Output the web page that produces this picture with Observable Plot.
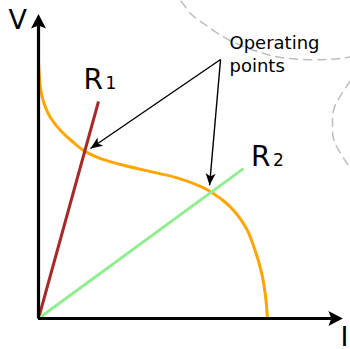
<!DOCTYPE html>
<html><head><meta charset="utf-8">
<script src="https://cdn.jsdelivr.net/npm/d3@7"></script>
<script src="https://cdn.jsdelivr.net/npm/@observablehq/plot@0.6"></script>
<style>html,body{margin:0;padding:0;background:#fff}svg{display:block}</style>
</head><body><div id="chart"></div>
<script>
// Source I–V characteristic (normalised current I, voltage V)
const curveI = [0, 0.009, 0.026, 0.052, 0.096, 0.148, 0.205, 0.271, 0.358, 0.467, 0.598, 0.707, 0.795, 0.860, 0.908, 0.943, 0.974, 0.991, 1.000];
const curveV = [1.000, 0.891, 0.829, 0.779, 0.729, 0.686, 0.647, 0.620, 0.597, 0.574, 0.547, 0.512, 0.465, 0.411, 0.349, 0.271, 0.178, 0.089, 0];

// Load lines (through the origin)
const loadNames = ["R1", "R2"];
const loadEndI = [0.262, 0.895];
const loadEndV = [0.841, 0.581];

// Operating points and the callout origin
const opI = [0.227, 0.747];
const opV = [0.659, 0.516];
const calloutI = 0.795, calloutV = 1.004;

// Axis extents
const axisEndI = 1.279, axisEndV = 1.136;

// Dashed decorative arcs
const arc1I = [0.576, 0.620, 0.664, 0.721, 0.783, 0.873, 0.969, 1.057, 1.157, 1.262, 1.349, 1.406];
const arc1V = [1.264, 1.233, 1.182, 1.143, 1.105, 1.062, 1.031, 1.012, 1.004, 1.004, 1.012, 1.019];
const arc2I = [1.389, 1.362, 1.319, 1.288, 1.284, 1.288, 1.319, 1.354, 1.389];
const arc2V = [0.969, 0.922, 0.864, 0.806, 0.756, 0.698, 0.640, 0.593, 0.554];

// Labels
const bigLabels = ["V", "I"];
const bigLabelI = [-0.131, 1.319];
const bigLabelV = [1.124, -0.105];
const rLabelI = [0.1965, 0.928];
const rLabelV = [0.888, 0.593];
const subLabels = ["1", "2"];
const subLabelI = [0.293, 1.024];
const noteText = "Operating\npoints";
const noteI = 0.834, noteV = 0.957;

const zip = (a, b) => a.map((v, i) => ({I: v, V: b[i]}));
const curve = zip(curveI, curveV);
const arc1 = zip(arc1I, arc1V);
const arc2 = zip(arc2I, arc2V);
const loads = loadNames.map((n, i) => ({name: n, I0: 0, V0: 0, I: loadEndI[i], V: loadEndV[i]}));
const callouts = opI.map((v, i) => ({I0: calloutI, V0: calloutV, I: v, V: opV[i]}));
const axes = [{I0: 0, V0: 0, I: 0, V: axisEndV}, {I0: -0.002, V0: 0, I: axisEndI, V: 0}];
const big = bigLabels.map((t, i) => ({t, I: bigLabelI[i], V: bigLabelV[i]}));
const rl = rLabelI.map((v, i) => ({t: "R", I: v, V: rLabelV[i]}));
const subs = subLabels.map((t, i) => ({t, I: subLabelI[i], V: rLabelV[i]}));

const plot = Plot.plot({
  width: 350, height: 349, margin: 0,
  x: {domain: [-38 / 229, 312 / 229], range: [0, 350], axis: null},
  y: {domain: [-31 / 258, 318 / 258], range: [349, 0], axis: null},
  style: {background: "white", fontFamily: "'DejaVu Sans', sans-serif", color: "black"},
  marks: [
    Plot.line(arc1, {x: "I", y: "V", curve: "natural", stroke: "#bdbdbd", strokeWidth: 1.5, strokeDasharray: "8,6"}),
    Plot.line(arc2, {x: "I", y: "V", curve: "natural", stroke: "#bdbdbd", strokeWidth: 1.5, strokeDasharray: "8,6"}),
    Plot.line(curve, {x: "I", y: "V", curve: "monotone-y", stroke: "orange", strokeWidth: 3}),
    Plot.link([loads[0]], {x1: "I0", y1: "V0", x2: "I", y2: "V", stroke: "brown", strokeWidth: 3}),
    Plot.link([loads[1]], {x1: "I0", y1: "V0", x2: "I", y2: "V", stroke: "lightgreen", strokeWidth: 3}),
    Plot.link(callouts, {x1: "I0", y1: "V0", x2: "I", y2: "V", stroke: "black", strokeWidth: 1.4, ariaDescription: "callouts"}),
    Plot.link(axes, {x1: "I0", y1: "V0", x2: "I", y2: "V", stroke: "black", strokeWidth: 3.2, ariaDescription: "axes"}),
    Plot.text(big, {x: "I", y: "V", text: "t", fontSize: 27, textAnchor: "start", lineAnchor: "bottom", fill: "black"}),
    Plot.text(rl, {x: "I", y: "V", text: "t", fontSize: 28, textAnchor: "start", lineAnchor: "bottom", fill: "black"}),
    Plot.text(subs, {x: "I", y: "V", text: "t", fontSize: 17, textAnchor: "start", lineAnchor: "bottom", fill: "black"}),
    Plot.text([{t: noteText, I: noteI, V: noteV}], {x: "I", y: "V", text: "t", fontSize: 18, lineHeight: 1.25, textAnchor: "start", lineAnchor: "bottom", fill: "black"})
  ]
});

const svg = d3.select(plot);
const defs = svg.insert("defs", ":first-child");
defs.append("marker").attr("id", "axhead").attr("markerUnits", "userSpaceOnUse")
  .attr("viewBox", "-4 -9 17 18").attr("markerWidth", 17).attr("markerHeight", 18)
  .attr("refX", 0).attr("refY", 0).attr("orient", "auto")
  .append("path").attr("d", "M-3,-7.5L11.5,0L-3,7.5L0,0Z").attr("fill", "black");
defs.append("marker").attr("id", "cohead").attr("markerUnits", "userSpaceOnUse")
  .attr("viewBox", "-13 -7 14 14").attr("markerWidth", 14).attr("markerHeight", 14)
  .attr("refX", 0).attr("refY", 0).attr("orient", "auto")
  .append("path").attr("d", "M-12,-5L0,0L-12,5L-9,0Z").attr("fill", "black");
svg.selectAll('g[aria-description="axes"] path').attr("marker-end", "url(#axhead)");
svg.selectAll('g[aria-description="callouts"] path').attr("marker-end", "url(#cohead)");

document.getElementById("chart").append(plot);
</script>
</body></html>
